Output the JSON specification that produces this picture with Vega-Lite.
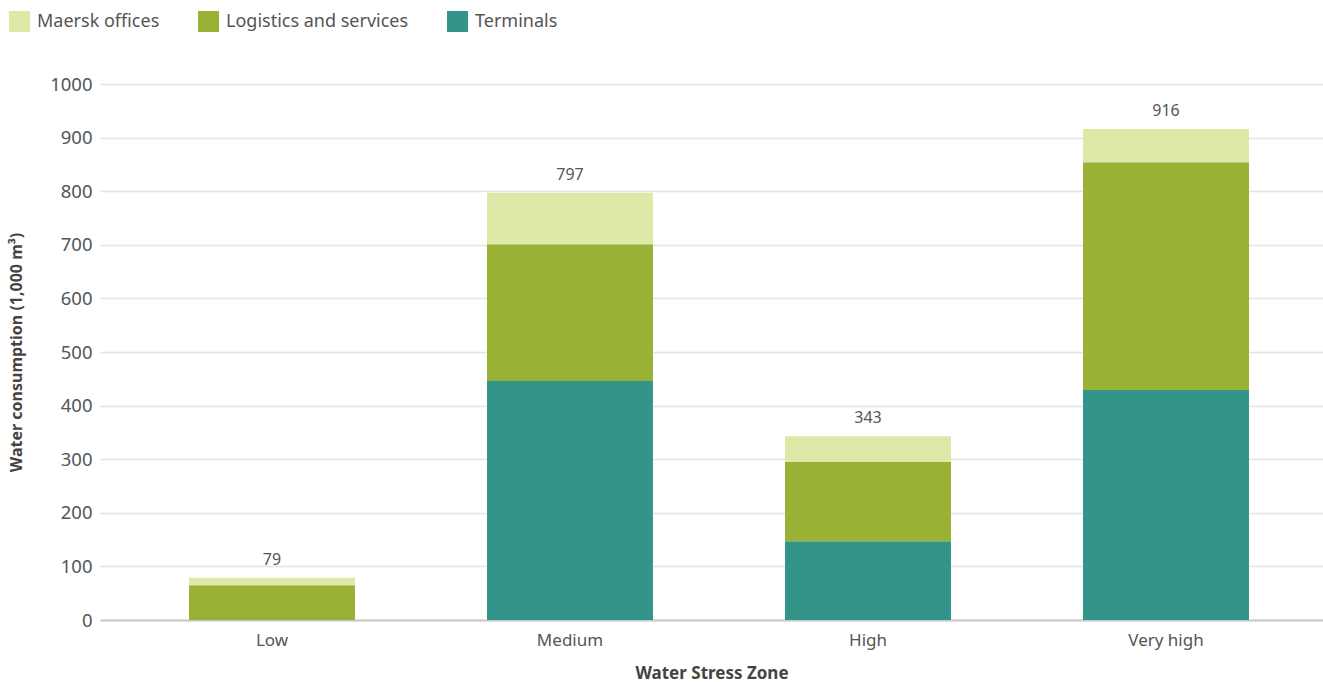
{
  "$schema": "https://vega.github.io/schema/vega-lite/v6.json",
  "autosize": "none",
  "width": 1223,
  "height": 536,
  "padding": {"left": 100, "top": 84, "right": 0, "bottom": 62},
  "background": "white",
  "config": {
    "font": "Noto Sans",
    "view": {"stroke": null},
    "axis": {"labelColor": "#555555", "titleColor": "#444444"}
  },
  "data": {
    "values": [
      {"zone": "Low", "component": "Terminals", "value": 0},
      {"zone": "Low", "component": "Logistics and services", "value": 65},
      {"zone": "Low", "component": "Maersk offices", "value": 14},
      {"zone": "Medium", "component": "Terminals", "value": 446},
      {"zone": "Medium", "component": "Logistics and services", "value": 255},
      {"zone": "Medium", "component": "Maersk offices", "value": 96},
      {"zone": "High", "component": "Terminals", "value": 147},
      {"zone": "High", "component": "Logistics and services", "value": 148},
      {"zone": "High", "component": "Maersk offices", "value": 48},
      {"zone": "Very high", "component": "Terminals", "value": 429},
      {"zone": "Very high", "component": "Logistics and services", "value": 425},
      {"zone": "Very high", "component": "Maersk offices", "value": 62}
    ]
  },
  "encoding": {
    "x": {
      "field": "zone",
      "type": "nominal",
      "sort": ["Low", "Medium", "High", "Very high"],
      "scale": {"paddingInner": 0.443, "paddingOuter": 0.2735, "align": 0.546},
      "axis": {
        "title": "Water Stress Zone",
        "labelAngle": 0,
        "labelFontSize": 17,
        "labelPadding": 12,
        "ticks": false,
        "domainColor": "#c8c8c8",
        "domainWidth": 2,
        "titleFontSize": 17,
        "titleFontWeight": "bold",
        "titlePadding": 17
      }
    }
  },
  "layer": [
    {
      "mark": {"type": "bar"},
      "transform": [
        {"calculate": "indexof(['Terminals', 'Logistics and services', 'Maersk offices'], datum.component)", "as": "stack_rank"}
      ],
      "encoding": {
        "y": {
          "field": "value",
          "type": "quantitative",
          "aggregate": "sum",
          "stack": "zero",
          "scale": {"domain": [0, 1000], "nice": false},
          "axis": {
            "title": "Water consumption (1,000 m³)",
            "values": [0, 100, 200, 300, 400, 500, 600, 700, 800, 900, 1000],
            "format": "d",
            "labelFontSize": 18.5,
            "labelPadding": 8,
            "ticks": false,
            "domain": false,
            "gridColor": "#e3e3e3",
            "gridWidth": 1.5,
            "titleFontSize": 16,
            "titleFontWeight": "bold",
            "titlePadding": 25
          }
        },
        "order": {"field": "stack_rank", "type": "quantitative", "aggregate": "min"},
        "color": {
          "field": "component",
          "type": "nominal",
          "scale": {
            "domain": ["Terminals", "Logistics and services", "Maersk offices"],
            "range": ["#33958a", "#99b236", "#dfe9a7"]
          },
          "legend": {
            "title": null,
            "orient": "none",
            "legendX": -91,
            "legendY": -73,
            "direction": "horizontal",
            "values": ["Maersk offices", "Logistics and services", "Terminals"],
            "symbolType": "square",
            "symbolSize": 441,
            "symbolStrokeWidth": 0,
            "labelFontSize": 18,
            "labelLimit": 400,
            "labelColor": "#555555",
            "labelOffset": 7,
            "columnPadding": 38
          }
        }
      }
    },
    {
      "mark": {"type": "text", "baseline": "bottom", "dy": -10, "fontSize": 16, "color": "#555555"},
      "transform": [
        {"aggregate": [{"op": "sum", "field": "value", "as": "total"}], "groupby": ["zone"]}
      ],
      "encoding": {
        "y": {"field": "total", "type": "quantitative"},
        "text": {"field": "total", "type": "quantitative"}
      }
    }
  ]
}
